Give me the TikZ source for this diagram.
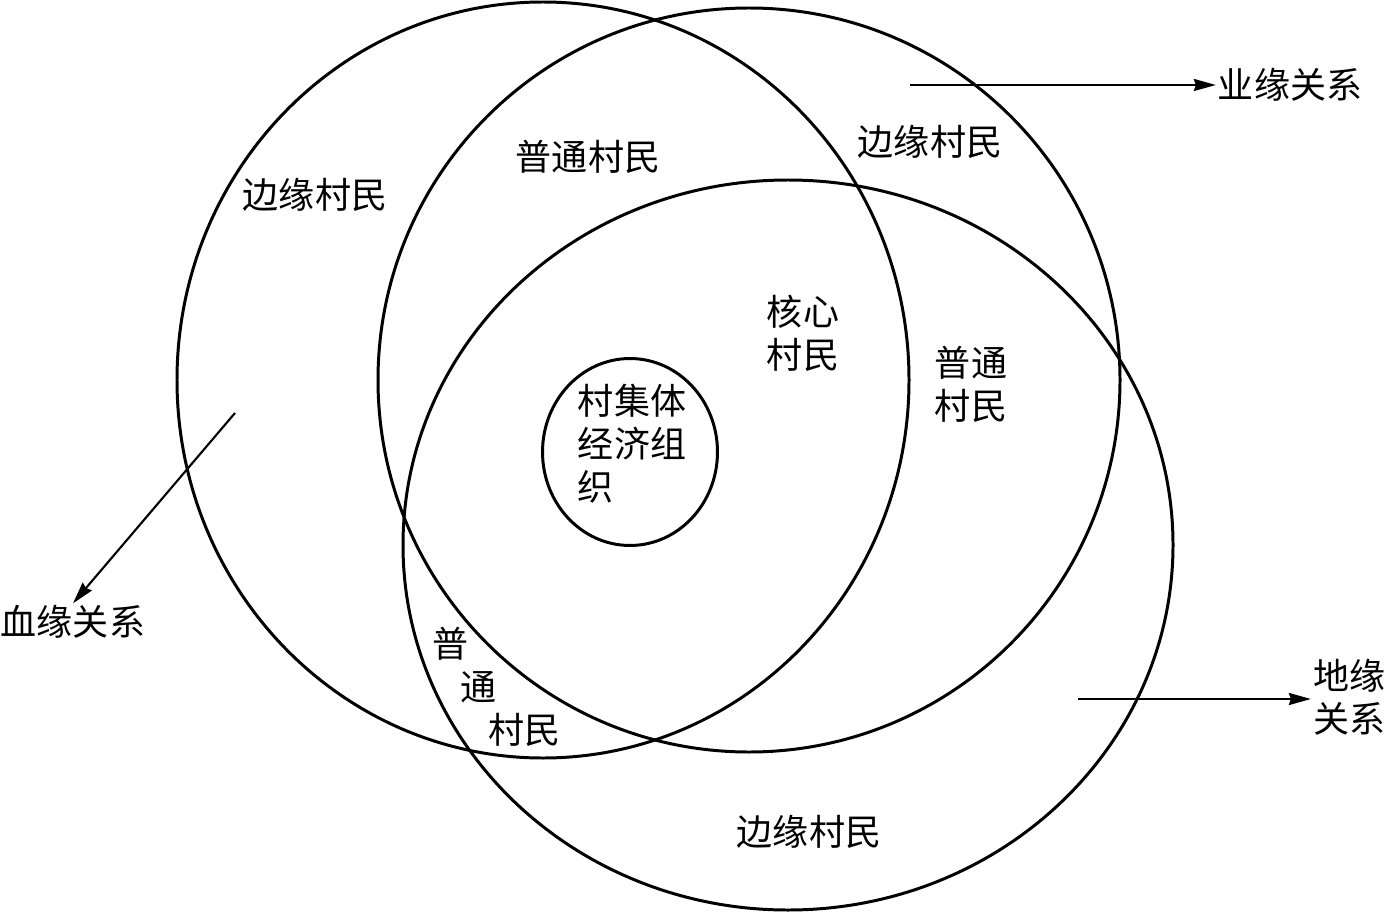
\documentclass[tikz,border=0pt]{standalone}
\usepackage{fontspec}
\setmainfont{Noto Sans CJK SC}
\usetikzlibrary{arrows.meta, shapes.geometric}

\begin{document}
\begin{tikzpicture}[
  x=0.02cm, y=-0.02cm,
  ring/.style={line width=1.7pt},
  core/.style={ellipse, draw, line width=1.7pt, minimum width=3.5cm,
               minimum height=3.74cm, inner sep=0pt},
  txt/.style={font=\fontsize{20.5}{24.5}\selectfont, align=center, inner sep=1pt},
  arr/.style={-{Stealth[length=0.44cm, width=0.24cm, inset=0.04cm]}, line width=1.2pt}
]
\useasboundingbox (0,0) rectangle (1385,912);

% Three rings
\draw[ring] (543,380) ellipse [x radius=366, y radius=378];  % blood ties
\draw[ring] (749,380) ellipse [x radius=371, y radius=372];  % work ties
\draw[ring] (788,545) ellipse [x radius=385, y radius=365];  % place ties

% Core
\node[core] (jiti) at (630,452) {};
\node[txt, align=left] (jitilbl) at (632,444) {\fontsize{20.5}{26}\selectfont 村集体\\经济组\\织};

% Villager groups
\node[txt] (bianleft)  at (315,195) {边缘村民};
\node[txt] (putop)     at (588,157) {普通村民};
\node[txt] (bianright) at (930,142) {边缘村民};
\node[txt] (hexin)     at (803,333) {核心\\村民};
\node[txt] (puright)   at (971,384) {普通\\村民};
\node[txt, align=left, anchor=west] (pulow) at (430,687)
  {\fontsize{20.5}{26}\selectfont 普\\\hspace{0.78em}通\\\hspace{1.56em}村民};
\node[txt] (bianlow)   at (809,832) {边缘村民};

% Relation labels
\node[txt] (xuelbl) at (73,622)   {血缘关系};
\node[txt] (yelbl)  at (1290,85)  {业缘关系};
\node[txt] (dilbl)  at (1349,697) {地缘\\关系};

\coordinate (xuestart) at (235,413);
\coordinate (yestart)  at (910,85);
\coordinate (distart)  at (1078,699);

% Arrows
\draw[arr] (xuestart) -- (xuelbl.north);
\draw[arr] (yestart) -- (yelbl.west);
\draw[arr] (distart) -- (distart -| dilbl.west);
\end{tikzpicture}
\end{document}
